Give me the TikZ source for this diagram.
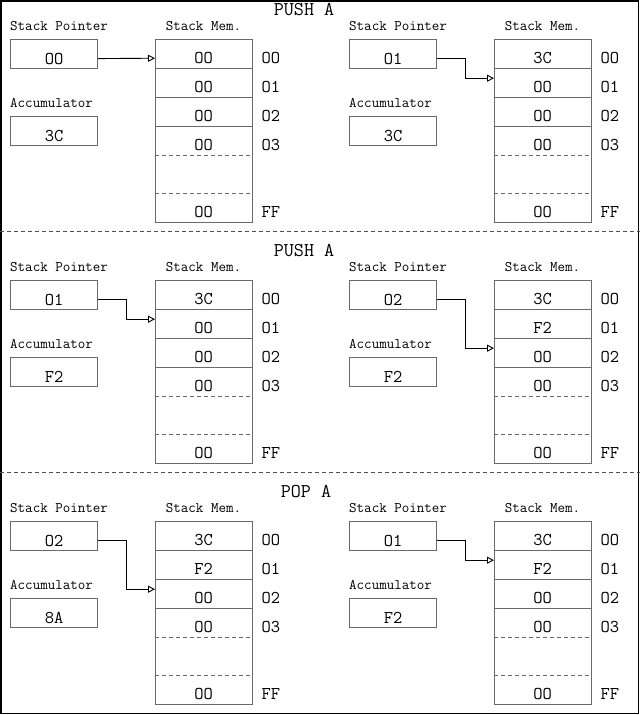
\documentclass[tikz,border=0pt]{standalone}
\usepackage{fontspec}
\usetikzlibrary{arrows.meta}
\definecolor{boxgray}{HTML}{6A6A6A}
\definecolor{sepgray}{HTML}{505050}
\newcommand\valfont{\ttfamily\fontsize{18}{21}\selectfont}
\tikzset{
  lbl/.style={font=\ttfamily\fontsize{14.6}{16}\selectfont, anchor=base west, inner sep=0pt},
  ttl/.style={font=\ttfamily\fontsize{19.5}{22}\selectfont, anchor=base, inner sep=0pt},
  valbox/.style={draw=boxgray, line width=1.2pt, minimum width=87pt, minimum height=29pt,
    inner sep=0pt, text height=20pt, text depth=0pt, font=\valfont, anchor=north west},
  cell/.style={minimum width=97pt, minimum height=29pt, inner sep=0pt,
    text height=20pt, text depth=0pt, font=\valfont, anchor=north west},
  addr/.style={inner sep=0pt, text height=20pt, text depth=0pt, font=\valfont, anchor=west},
  stackbox/.style={draw=boxgray, line width=1.2pt, minimum width=97pt, minimum height=183pt,
    inner sep=0pt, anchor=north west},
  rowsep/.style={draw=boxgray, line width=1pt},
  rowdash/.style={rowsep, dash pattern=on 4pt off 3pt},
  panelsep/.style={draw=sepgray, line width=1pt, dash pattern=on 4pt off 3pt},
  ptr/.style={draw=black, line width=0.9pt, -{Triangle[open,length=7pt,width=7pt]}},
}
% #1 x, #2 y, #3 prefix, #4 sp, #5 acc, #6 r1, #7 r2, #8 r3, #9 target row
\newcommand\mempanel[9]{%
 \begin{scope}[shift={(#1,#2)}]
  \node[lbl] (#3splbl) at (10,30) {Stack Pointer};
  \node[valbox] (#3sp) at (10,39) {#4};
  \node[lbl] (#3acclbl) at (10,107) {Accumulator};
  \node[valbox] (#3acc) at (10,116) {#5};
  \node[lbl, anchor=base] (#3memlbl) at (203.5,30) {Stack Mem.};
  \node[stackbox] (#3mem) at (155,39) {};
  \node[cell] (#3r1) at (155,39) {#6};
  \node[cell] (#3r2) at (155,68) {#7};
  \node[cell] (#3r3) at (155,97) {#8};
  \node[cell] (#3r4) at (155,126) {OO};
  \node[cell] (#3rf) at (155,193) {OO};
  \node[addr] (#3a1) at ([xshift=9pt]#3r1.east) {OO};
  \node[addr] (#3a2) at ([xshift=9pt]#3r2.east) {O1};
  \node[addr] (#3a3) at ([xshift=9pt]#3r3.east) {O2};
  \node[addr] (#3a4) at ([xshift=9pt]#3r4.east) {O3};
  \node[addr] (#3af) at ([xshift=9pt]#3rf.east) {FF};
  \draw[rowsep] (#3r1.south west) -- (#3r1.south east);
  \draw[rowsep] (#3r2.south west) -- (#3r2.south east);
  \draw[rowsep] (#3r3.south west) -- (#3r3.south east);
  \draw[rowdash] (#3r4.south west) -- (#3r4.south east);
  \draw[rowdash] (#3rf.north west) -- (#3rf.north east);
  \coordinate (#3s) at ([yshift=-4.5pt]#3sp.east);
  \ifcase#9\or
    \draw[ptr] (#3s) -- ([yshift=-4.5pt]#3r1.west);
  \or
    \coordinate (#3t) at ([yshift=4.5pt]#3r2.west);
    \draw[ptr] (#3s) -- ([xshift=28pt]#3s) |- (#3t);
  \or
    \coordinate (#3t) at ([yshift=4.5pt]#3r3.west);
    \draw[ptr] (#3s) -- ([xshift=28pt]#3s) |- (#3t);
  \fi
 \end{scope}%
}
\begin{document}
\begin{tikzpicture}[x=1pt,y=-1pt]
  \useasboundingbox (0,0) rectangle (640,715);
  \draw[black, line width=1.2pt] (1,1) rectangle (638.5,713.5);
  \draw[panelsep] (0,231) -- (640,231);
  \draw[panelsep] (0,472) -- (640,472);
  \node[ttl] (title1) at (304,15) {PUSH A};
  \node[ttl] (title2) at (304,256) {PUSH A};
  \node[ttl] (title3) at (306,497) {POP A};
  \mempanel{0}{0}{pa}{OO}{3C}{OO}{OO}{OO}{1}
  \mempanel{339}{0}{pb}{O1}{3C}{3C}{OO}{OO}{2}
  \mempanel{0}{241}{pc}{O1}{F2}{3C}{OO}{OO}{2}
  \mempanel{339}{241}{pd}{O2}{F2}{3C}{F2}{OO}{3}
  \mempanel{0}{482}{pe}{O2}{8A}{3C}{F2}{OO}{3}
  \mempanel{339}{482}{pf}{O1}{F2}{3C}{F2}{OO}{2}
\end{tikzpicture}
\end{document}
